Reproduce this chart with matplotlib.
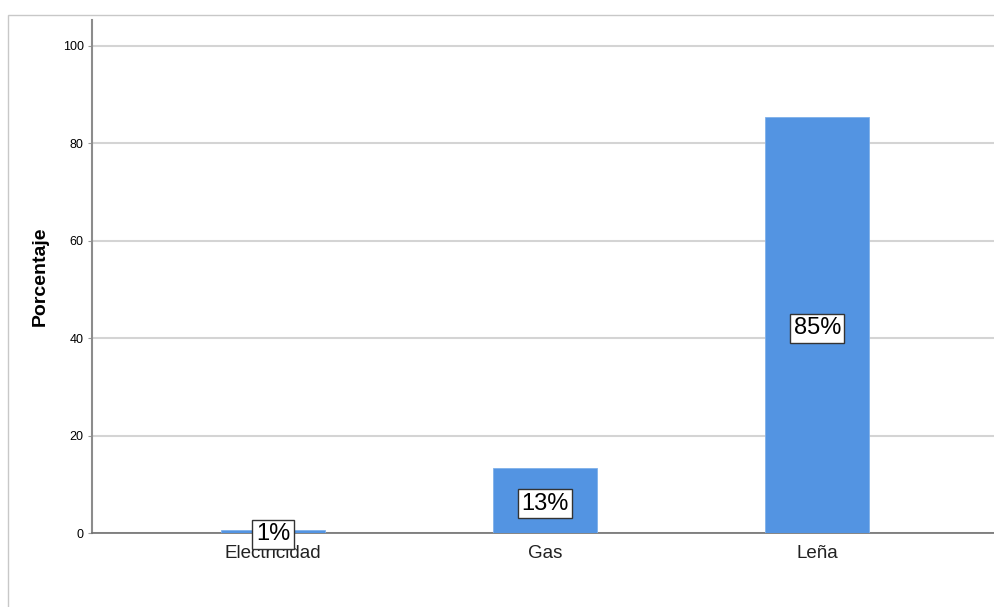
import numpy as np
import matplotlib.pyplot as plt
from matplotlib.patches import Rectangle

plt.rcParams['font.family'] = ['Liberation Sans', 'DejaVu Sans']

categorias = ["Electricidad", "Gas", "Leña"]
porcentajes = [0.6, 13.3, 85.3]
etiquetas = ["1%", "13%", "85%"]
yticks = [0, 20, 40, 60, 80, 100]

fig = plt.figure(figsize=(9.95, 6.07), dpi=100)
W, H = 995, 607
ax = fig.add_axes([92 / W, 1 - 533 / H, (W - 92) / W + 0.01, (533 - 20) / H])

# marco exterior
fig.patches.append(Rectangle((8 / W, -0.1), 1.2, 1 - 15 / H + 0.1, transform=fig.transFigure,
                             fill=False, edgecolor='#c8c8c8', linewidth=1))

x = np.arange(len(categorias))
ax.bar(x, porcentajes, width=0.38, color='#5394e2', edgecolor='#7fb0ea', linewidth=0.6, zorder=3)

for xi, v, t in zip(x, porcentajes, etiquetas):
    ax.text(xi, v / 2 - 0.6, t, ha='center', va='center', fontsize=17, zorder=4,
            bbox=dict(boxstyle='square,pad=0.15', facecolor='white', edgecolor='#333333', linewidth=1))

ax.set_xlim(-0.665, 2.69)
ax.set_ylim(0, 105.3)
ax.set_yticks(yticks)
ax.set_xticks(x)
ax.set_xticklabels(categorias, fontsize=13.5, color='#222222')
ax.tick_params(axis='x', length=0, pad=9)
ax.tick_params(axis='y', length=3, width=0.8, color='#999999', labelsize=9, pad=3)
ax.yaxis.grid(True, color='#d4d4d4', linewidth=1.5, zorder=0)
ax.set_axisbelow(True)

ax.spines['top'].set_visible(False)
ax.spines['right'].set_visible(False)
ax.spines['left'].set_color('#8c8c8c')
ax.spines['left'].set_linewidth(1.5)
ax.spines['bottom'].set_color('#707070')
ax.spines['bottom'].set_linewidth(1.2)

ax.set_ylabel("Porcentaje", fontsize=14, fontweight='bold')
ax.yaxis.set_label_coords(-0.047, 0.5)

plt.savefig("out.png", dpi=100)
